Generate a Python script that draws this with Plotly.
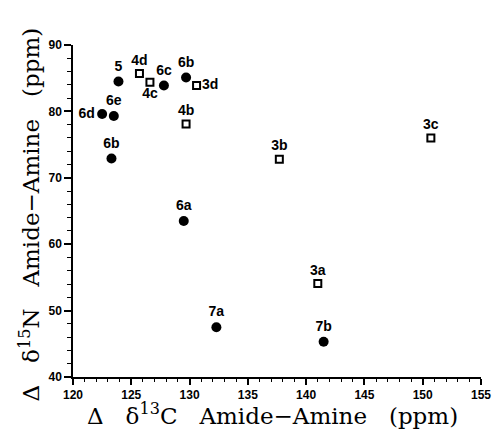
import plotly.graph_objects as go

# Filled circles (compounds 5, 6, 7)
circle_labels = ["5", "6c", "6b", "6e", "6d", "6b", "6a", "7a", "7b"]
circle_x = [123.9, 127.8, 129.7, 123.5, 122.5, 123.3, 129.5, 132.3, 141.5]
circle_y = [84.5, 83.9, 85.1, 79.3, 79.6, 72.9, 63.5, 47.5, 45.3]
circle_pos = ["top center", "top center", "top center", "top center", "middle left",
              "top center", "top center", "top center", "top center"]

# Open squares (compounds 3, 4)
square_labels = ["4d", "4c", "3d", "4b", "3b", "3c", "3a"]
square_x = [125.7, 126.6, 130.6, 129.7, 137.7, 150.7, 141.0]
square_y = [85.7, 84.4, 83.9, 78.1, 72.8, 76.0, 54.1]
square_pos = ["top center", "bottom center", "middle right", "top center",
              "top center", "top center", "top center"]

x_range = [120, 155]
y_range = [40, 90]

nb = "\u00a0"
x_title = "Δ" + nb * 3 + "δ<sup>13</sup>C" + nb * 3 + "Amide−Amine" + nb * 3 + "(ppm)"
y_title = "Δ" + nb * 3 + "δ<sup>15</sup>N" + nb * 3 + "Amide−Amine" + nb * 3 + "(ppm)"

label_font = dict(family="Liberation Sans", size=14, color="black")
tick_font = dict(family="Liberation Sans", size=12, color="black", weight="bold")
title_font = dict(family="DejaVu Serif", size=23, color="black")

fig = go.Figure()
fig.add_trace(go.Scatter(
    x=circle_x, y=circle_y, mode="markers+text",
    text=["<b>%s</b>" % t for t in circle_labels], textposition=circle_pos,
    textfont=label_font,
    marker=dict(symbol="circle", size=10, color="black"),
    showlegend=False, cliponaxis=False, hoverinfo="skip"))
fig.add_trace(go.Scatter(
    x=square_x, y=square_y, mode="markers+text",
    text=["<b>%s</b>" % t for t in square_labels], textposition=square_pos,
    textfont=label_font,
    marker=dict(symbol="square", size=7, color="white",
                line=dict(color="black", width=2)),
    showlegend=False, cliponaxis=False, hoverinfo="skip"))

fig.update_layout(
    width=493, height=430,
    margin=dict(l=73, r=12, t=45, b=53),
    paper_bgcolor="white", plot_bgcolor="white",
    xaxis=dict(
        range=x_range, dtick=5, tick0=120, showgrid=False, zeroline=False,
        automargin=False, ticklabeloverflow="allow",
        showline=True, linecolor="black", linewidth=1.5,
        ticks="outside", ticklen=6, tickwidth=1.5, tickcolor="black",
        minor=dict(dtick=1, ticks="outside", ticklen=3, tickcolor="black", tickwidth=1),
        tickfont=tick_font,
    ),
    yaxis=dict(
        range=y_range, dtick=10, tick0=40, showgrid=False, zeroline=False,
        automargin=False, ticklabeloverflow="allow",
        showline=True, linecolor="black", linewidth=1.5,
        ticks="outside", ticklen=7, tickwidth=1.5, tickcolor="black",
        minor=dict(dtick=2, ticks="outside", ticklen=4, tickcolor="black", tickwidth=1),
        tickfont=tick_font,
    ),
    annotations=[
        dict(text=x_title, xref="paper", yref="paper", x=0.49, y=-0.11,
             xanchor="center", yanchor="middle", showarrow=False, font=title_font),
        dict(text=y_title, xref="paper", yref="paper", x=-0.105, y=0.49,
             xanchor="center", yanchor="middle", textangle=-90, showarrow=False,
             font=title_font),
    ],
)

fig.write_html("out.html",
               config={"displayModeBar": False},
               post_script="document.body.style.margin='0';document.body.style.overflow='hidden';")
